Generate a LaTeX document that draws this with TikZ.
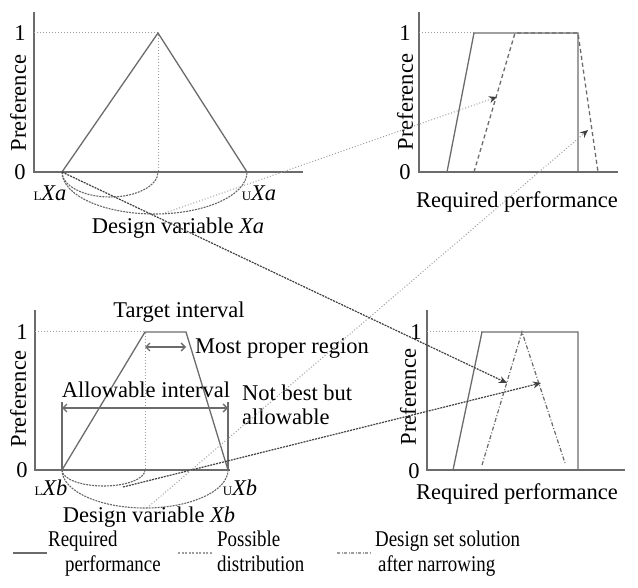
\documentclass[tikz,border=0pt]{standalone}
\usepackage{fontspec}
\setmainfont{Liberation Serif}
\usetikzlibrary{arrows.meta}
\definecolor{linegray}{rgb}{0.42,0.42,0.42}
\definecolor{dotgray}{rgb}{0.62,0.62,0.62}
\definecolor{arrowgray}{rgb}{0.25,0.25,0.25}

\begin{document}
\begin{tikzpicture}[x=1pt,y=-1pt,
  font=\fontsize{22.5}{24}\selectfont,
  axis/.style={linegray,line width=1.6pt},
  curve/.style={linegray,line width=1.3pt},
  guide/.style={dotgray,line width=1pt,dotted},
  arcline/.style={arrowgray!80,line width=1.1pt,dash pattern=on 2pt off 1pt},
  spread/.style={linegray,line width=1.3pt,dash pattern=on 4pt off 3pt},
  narrow/.style={linegray,line width=1.2pt,dash pattern=on 4pt off 2pt on 1pt off 2pt},
  swing/.style={arrowgray,line width=1.2pt,dash pattern=on 2pt off 1pt,-{Stealth[length=8pt,width=7pt]}},
  faint/.style={dotgray,line width=1pt,dotted,-{Stealth[arrowgray,length=8pt,width=7pt]}},
  span/.style={curve,{Straight Barb[length=4pt,width=8pt]}-{Straight Barb[length=4pt,width=8pt]}},
  lab/.style={inner sep=0pt},
  legtext/.style={inner sep=0pt,anchor=base west}]
\useasboundingbox (0,0) rectangle (638,588);
%\draw[step=50,lightgray,very thin] (0,0) grid (638,588);

% design variable Xa
\draw[axis] (34,12) -- (34,172) -- (303,172);
\draw[guide] (34,33) -- (158,33) -- (158,172);
\draw[curve] (62,172) -- (158,33) -- (247,172);
\draw[arcline] (62,172) arc[start angle=180,end angle=360,x radius=48pt,y radius=25pt];
\draw[arcline] (62,172) arc[start angle=180,end angle=360,x radius=92.5pt,y radius=42pt];
\node[lab] (one-a) at (20,33) {1};
\node[lab] (zero-a) at (20,172) {0};
\node[lab,rotate=90] (pref-a) at (18,103) {Preference};
\node[lab] (low-a) at (50,193) {{\fontsize{13}{13}\selectfont L}\textit{Xa}};
\node[lab] (up-a) at (259,193) {{\fontsize{13}{13}\selectfont U}\textit{Xa}};
\node[lab] (var-a) at (178,228) {Design variable \textit{Xa}};

% required performance, top
\draw[axis] (419,12) -- (419,172) -- (618,172);
\draw[guide] (419,33) -- (474,33);
\draw[curve] (447,172) -- (474,33) -- (578,33) -- (578,172);
\draw[spread] (474,172) -- (515,33) -- (578,33) -- (598,172);
\node[lab] (one-t) at (405,33) {1};
\node[lab] (zero-t) at (405,172) {0};
\node[lab,rotate=90] (pref-t) at (405,102) {Preference};
\node[lab] (perf-t) at (517,202) {Required performance};

% design variable Xb
\draw[axis] (35,310) -- (35,470) -- (230,470);
\draw[guide] (35,332) -- (145,332) -- (145,470);
\draw[curve] (62,470) -- (145,332) -- (186,332) -- (228,470);
\draw[curve] (62,470) -- (62,402);
\draw[curve] (228,470) -- (228,402);
\draw[span] (62,408) -- (228,408);
\draw[span] (145,347) -- (186,347);
\draw[arcline] (62,470) arc[start angle=180,end angle=360,x radius=41.5pt,y radius=16pt];
\draw[arcline] (62,470) arc[start angle=180,end angle=360,x radius=83pt,y radius=38pt];
\node[lab] (one-b) at (22,332) {1};
\node[lab] (zero-b) at (22,470) {0};
\node[lab,rotate=90] (pref-b) at (18,399) {Preference};
\node[lab] (low-b) at (51,488) {{\fontsize{13}{13}\selectfont L}\textit{Xb}};
\node[lab] (up-b) at (240,488) {{\fontsize{13}{13}\selectfont U}\textit{Xb}};
\node[lab] (var-b) at (149,517) {Design variable \textit{Xb}};
\node[lab] (target) at (179,312) {Target interval};
\node[lab,anchor=west] (proper) at (195,348) {Most proper region};
\node[lab] (allow) at (146,390) {Allowable interval};
\node[lab,anchor=north west,align=left] (notbest) at (242,385) {Not best but\\allowable};

% required performance, bottom
\draw[axis] (427,310) -- (427,470) -- (625,470);
\draw[guide] (427,332) -- (482,332);
\draw[curve] (453,470) -- (482,332) -- (578,332) -- (578,470);
\draw[narrow] (482,465) -- (522,332) -- (565,463);
\node[lab] (one-r) at (416,332) {1};
\node[lab] (zero-r) at (414,471) {0};
\node[lab,rotate=90] (pref-r) at (408,397) {Preference};
\node[lab] (perf-r) at (517,494) {Required performance};

% mapping
\coordinate (xa-low) at (62,172);
\coordinate (xa-arc) at (165,213);
\coordinate (xb-inner) at (123,487);
\coordinate (xb-arc) at (147,508);
\coordinate (top-left) at (497,97);
\coordinate (top-right) at (588,130);
\coordinate (bot-left) at (507,383);
\coordinate (bot-right) at (541,383);
\draw[swing] (xa-low) -- (bot-left);
\draw[swing] (xb-inner) -- (bot-right);
\draw[faint] (xa-arc) -- (top-left);
\draw[faint] (xb-arc) -- (top-right);

% legend
\draw[linegray,line width=2pt] (13,553) -- (47,553);
\draw[dotgray,line width=1.2pt,dash pattern=on 2pt off 1.5pt] (178,553) -- (213,553);
\draw[dotgray,line width=1.2pt,dash pattern=on 3pt off 1.5pt on 1pt off 1.5pt] (337,553) -- (370,553);
\node[legtext] (leg-req) at (48,546) {\scalebox{0.84}[1]{Required}};
\node[legtext] (leg-req2) at (65,571) {\scalebox{0.84}[1]{performance}};
\node[legtext] (leg-pos) at (217,546) {\scalebox{0.84}[1]{Possible}};
\node[legtext] (leg-pos2) at (217,571) {\scalebox{0.84}[1]{distribution}};
\node[legtext] (leg-set) at (375,546) {\scalebox{0.84}[1]{Design set solution}};
\node[legtext] (leg-set2) at (378,571) {\scalebox{0.84}[1]{after narrowing}};
\end{tikzpicture}
\end{document}
